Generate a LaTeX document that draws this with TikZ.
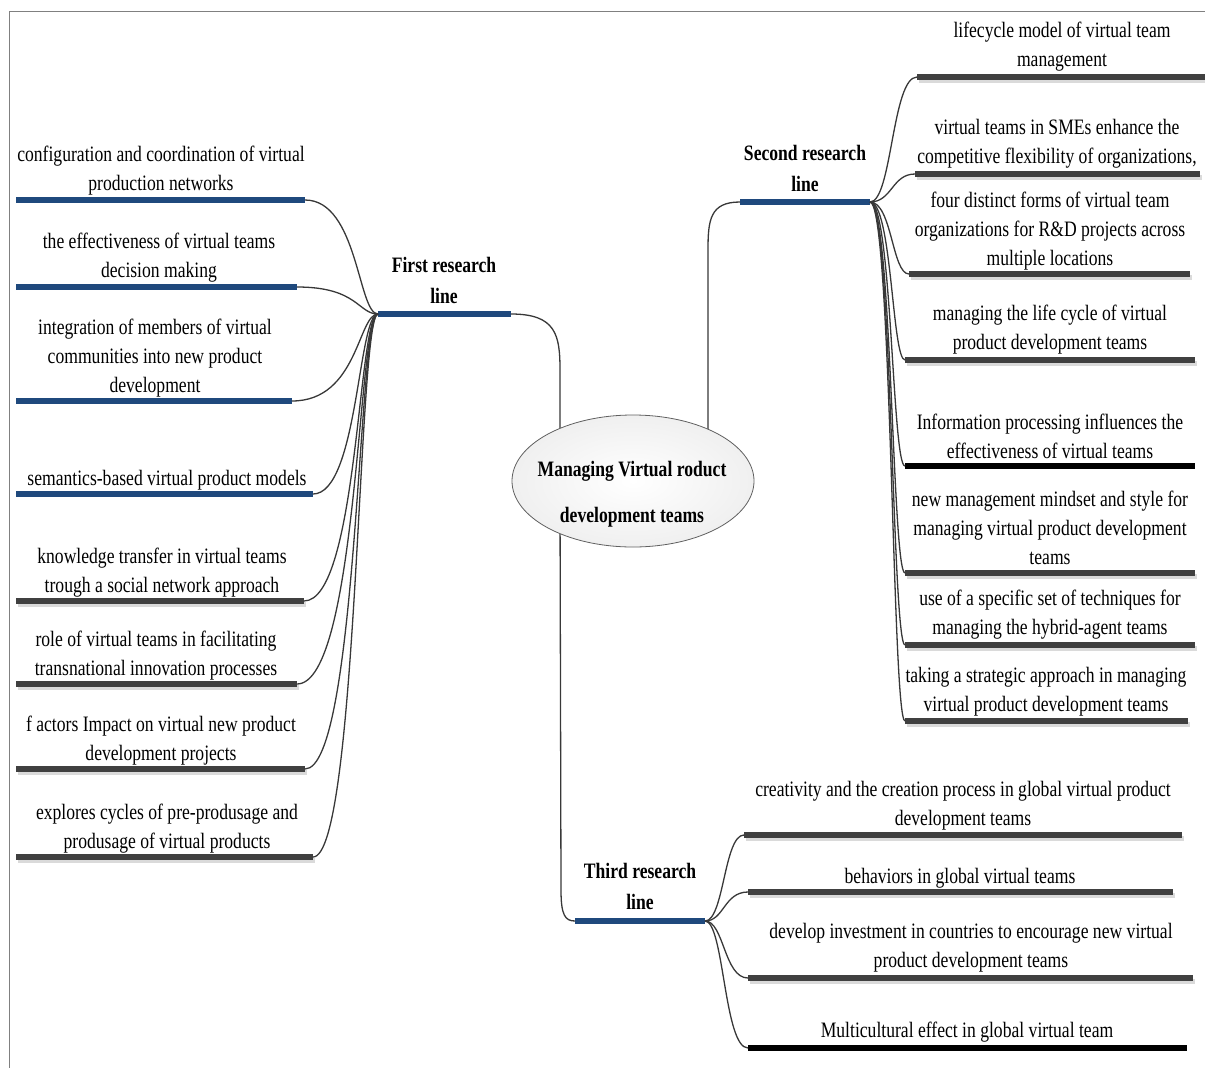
\documentclass[tikz,border=0pt]{standalone}
\usepackage{fontspec}
\setmainfont{Liberation Serif}[FakeStretch=0.8]
\usetikzlibrary{shapes.geometric,calc}
\definecolor{barblue}{HTML}{1F497D}
\definecolor{bardark}{HTML}{404040}
\definecolor{shadowgray}{HTML}{DADADA}
\definecolor{connc}{HTML}{383838}
\newcommand\mmbar[5]{%
  \coordinate (#1a) at (#2,#4); \coordinate (#1b) at (#3,#4);
  \draw[#5] (#1a) -- (#1b);}
\newcommand\mmshbar[4]{%
  \coordinate (#1a) at (#2,#4); \coordinate (#1b) at (#3,#4);
  \draw[shadowbar] ([shift={(2,3)}]#1a) -- ([shift={(2,3)}]#1b);
  \draw[darkbar] (#1a) -- (#1b);}
\begin{document}
\begin{tikzpicture}[x=1pt,y=-1pt,
  txt/.style={align=center,inner sep=0pt,font=\fontsize{22}{29}\selectfont},
  lbl/.style={align=center,inner sep=0pt,font=\fontsize{22}{31}\selectfont\bfseries},
  bluebar/.style={draw=barblue,line width=6.5pt},
  darkbar/.style={draw=bardark,line width=6.5pt},
  blackbar/.style={draw=black,line width=6.5pt},
  shadowbar/.style={draw=shadowgray,line width=5pt},
  conn/.style={draw=connc,line width=1.3pt},
]
\useasboundingbox (0,0) rectangle (1205,1068);
\draw[gray,line width=1pt] (1205,11) -- (9,11) -- (9,1068);

% bundle guides
\coordinate (Lbund) at (358,0);
\coordinate (Rbund) at (892,0);
\coordinate (Tbund) at (724,0);

% research line bars
\mmbar{F}{378}{511}{314}{bluebar}
\mmbar{S}{740}{870}{202}{bluebar}
\mmbar{T}{575}{705}{921}{bluebar}
\node[lbl] (Fl) at (444,280) {First research\\line};
\node[lbl] (Sl) at (805,168) {Second research\\line};
\node[lbl] (Tl) at (640,886) {Third research\\line};

% left leaves
\mmbar{L1}{16}{305}{200}{bluebar}
\mmbar{L2}{16}{297}{287}{bluebar}
\mmbar{L3}{16}{292}{401}{bluebar}
\mmbar{L4}{16}{313}{494}{bluebar}
\mmshbar{L5}{16}{304}{601}
\mmshbar{L6}{16}{297}{684}
\mmshbar{L7}{16}{305}{769}
\mmshbar{L8}{16}{313}{857}
\node[txt] (L1t) at (161,171) {configuration and coordination of virtual\\production networks};
\node[txt] (L2t) at (159,258) {the effectiveness of virtual teams\\decision making};
\node[txt] (L3t) at (155,358) {integration of members of virtual\\communities into new product\\development};
\node[txt] (L4t) at (167,480) {semantics-based virtual product models};
\node[txt] (L5t) at (162,573) {knowledge transfer in virtual teams\\trough a social network approach};
\node[txt] (L6t) at (156,656) {role of virtual teams in facilitating\\transnational innovation processes};
\node[txt] (L7t) at (161,741) {f actors Impact on virtual new product\\development projects};
\node[txt] (L8t) at (167,829) {explores cycles of pre-produsage and\\produsage of virtual products};
\foreach \i in {1,...,8}{
  \draw[conn] (L\i b) .. controls (L\i b -| Lbund) and (Fa -| Lbund) .. (Fa);
}

% right leaves (second line)
\mmshbar{R1}{917}{1205}{77}
\mmshbar{R2}{915}{1200}{174}
\mmshbar{R3}{909}{1190}{274}
\mmshbar{R4}{905}{1195}{360}
\mmbar{R5}{905}{1195}{466}{blackbar}
\mmshbar{R6}{905}{1195}{573}
\mmshbar{R7}{905}{1195}{645}
\mmshbar{R8}{905}{1188}{721}
\node[txt] (R1t) at (1062,47) {lifecycle model of virtual team\\management};
\node[txt] (R2t) at (1057,144) {virtual teams in SMEs enhance the\\competitive flexibility of organizations,};
\node[txt] (R3t) at (1050,231) {four distinct forms of virtual team\\organizations for R\&D projects across\\multiple locations};
\node[txt] (R4t) at (1050,330) {managing the life cycle of virtual\\product development teams};
\node[txt] (R5t) at (1050,436) {Information processing influences the\\effectiveness of virtual teams};
\node[txt] (R6t) at (1050,528) {new management mindset and style for\\managing virtual product development\\teams};
\node[txt] (R7t) at (1050,615) {use of a specific set of techniques for\\managing the hybrid-agent teams};
\node[txt] (R8t) at (1046,692) {taking a strategic approach in managing\\virtual product development teams};
\foreach \i in {1,...,8}{
  \draw[conn] (Sb) .. controls (Sb -| Rbund) and (R\i a -| Rbund) .. (R\i a);
}

% third line leaves
\mmshbar{B1}{744}{1182}{835}
\mmshbar{B2}{748}{1173}{892}
\mmshbar{B3}{748}{1193}{978}
\mmbar{B4}{748}{1187}{1048}{blackbar}
\node[txt] (B1t) at (963,806) {creativity and the creation process in global virtual product\\development teams};
\node[txt] (B2t) at (960,878) {behaviors in global virtual teams};
\node[txt] (B3t) at (971,948) {develop investment in countries to encourage new virtual\\product development teams};
\node[txt] (B4t) at (967,1032) {Multicultural effect in global virtual team};
\foreach \i in {1,...,4}{
  \draw[conn] (Tb) .. controls (Tb -| Tbund) and (B\i a -| Tbund) .. (B\i a);
}

% trunk connectors to the central topic
\coordinate (E1) at (560,480);
\coordinate (E1k) at (560,370);
\coordinate (E2) at (708,480);
\coordinate (E2k) at (708,250);
\coordinate (E3) at (560,500);
\coordinate (E3k) at (561,890);
\draw[conn] (Fb) .. controls +(45,0) and +(0,-35) .. (E1k) -- (E1);
\draw[conn] (Sa) .. controls +(-30,0) and +(0,-30) .. (E2k) -- (E2);
\draw[conn] (E3) -- (E3k) .. controls +(0,25) and +(-10,0) .. (Ta);

% central topic
\node[ellipse,draw=connc!80,line width=0.8pt,shading=radial,inner color=white,outer color=gray!12,
      minimum width=242pt,minimum height=132pt,inner sep=0pt] (C) at (633,481) {};
\node[align=center,inner sep=0pt,font=\fontsize{22}{46}\selectfont\bfseries] (Ct) at (632,494)
  {Managing Virtual roduct\\development teams};
\end{tikzpicture}
\end{document}
